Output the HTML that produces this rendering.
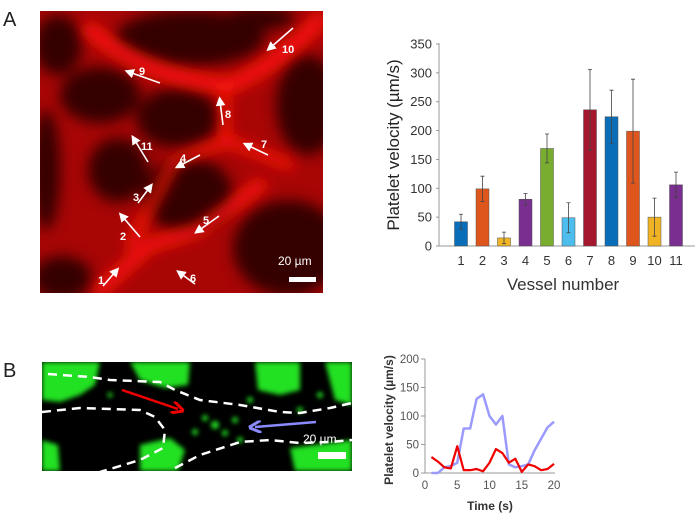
<!DOCTYPE html>
<html><head><meta charset="utf-8"><style>
body{margin:0;background:#fff;font-family:"Liberation Sans",Arial,sans-serif}
svg{display:block}
</style></head><body>
<svg width="700" height="526" viewBox="0 0 700 526" xmlns="http://www.w3.org/2000/svg">
<defs>
<filter id="blur8"><feGaussianBlur stdDeviation="7"/></filter>
<filter id="blur3"><feGaussianBlur stdDeviation="2.5"/></filter>
<clipPath id="clipA"><rect x="40" y="11" width="283" height="282"/></clipPath>
<clipPath id="clipB"><rect x="42" y="362" width="310" height="109"/></clipPath>
<marker id="mw" markerWidth="6" markerHeight="6" refX="3" refY="3" orient="auto"><path d="M0,0 L6,3 L0,6 Z" fill="#fff"/></marker>
<marker id="mr" markerWidth="5" markerHeight="5" refX="2.5" refY="2.5" orient="auto"><path d="M0,0 L5,2.5 L0,5" fill="none" stroke="#f00000" stroke-width="1.2"/></marker>
<marker id="mb" markerWidth="5" markerHeight="5" refX="2.5" refY="2.5" orient="auto"><path d="M0,0 L5,2.5 L0,5" fill="none" stroke="#8a8aff" stroke-width="1.2"/></marker>
</defs>

<text x="3" y="26" font-size="20" fill="#222">A</text>
<text x="3" y="377" font-size="20" fill="#222">B</text>

<g clip-path="url(#clipA)">
<rect x="40" y="11" width="283" height="282" fill="#a80505"/>
<g filter="url(#blur8)" fill="#360303">
<ellipse cx="58" cy="45" rx="24" ry="30"/>
<ellipse cx="190" cy="38" rx="75" ry="28"/>
<ellipse cx="100" cy="95" rx="40" ry="28"/>
<ellipse cx="178" cy="118" rx="42" ry="30"/>
<ellipse cx="118" cy="170" rx="30" ry="32"/>
<ellipse cx="188" cy="195" rx="45" ry="38"/>
<ellipse cx="308" cy="105" rx="32" ry="50"/>
<ellipse cx="288" cy="248" rx="55" ry="48"/>
<ellipse cx="62" cy="278" rx="30" ry="22"/>
<ellipse cx="46" cy="170" rx="14" ry="60"/>
<ellipse cx="260" cy="18" rx="35" ry="12"/>
</g>
<g filter="url(#blur8)" stroke="#ff1208" fill="none" stroke-linecap="round">
<path d="M90 30 Q150 80 230 85 Q270 70 320 20" stroke-width="14"/>
<path d="M225 85 L225 140 L290 165" stroke-width="9"/>
<path d="M130 245 L175 160 L230 140" stroke-width="9"/>
<path d="M100 290 L150 245 L200 230 L260 185" stroke-width="12"/>
</g>
</g>
<g stroke="#fff" stroke-width="1.6" marker-end="url(#mw)">
<line x1="293" y1="28" x2="270" y2="48"/><line x1="160" y1="83" x2="129" y2="72"/>
<line x1="223" y1="125" x2="220" y2="101"/><line x1="268" y1="155" x2="247" y2="145"/>
<line x1="148" y1="162" x2="134" y2="139"/><line x1="200" y1="155" x2="179" y2="166"/>
<line x1="138" y1="203" x2="150" y2="187"/><line x1="140" y1="237" x2="122" y2="216"/>
<line x1="219" y1="216" x2="198" y2="231"/><line x1="195" y1="284" x2="180" y2="273"/>
<line x1="103" y1="286" x2="116" y2="271"/>
</g>
<g fill="#fff" font-size="11" font-weight="bold">
<text x="282" y="53">10</text><text x="139" y="75">9</text><text x="225" y="118">8</text>
<text x="261" y="148">7</text><text x="141" y="150">11</text><text x="180" y="162">4</text>
<text x="133" y="201">3</text><text x="120" y="240">2</text><text x="203" y="224">5</text>
<text x="190" y="282">6</text><text x="98" y="284">1</text>
</g>
<text x="278" y="265" fill="#fff" font-size="12">20 µm</text>
<rect x="289" y="277" width="27" height="5" fill="#fff"/>

<g clip-path="url(#clipB)">
<rect x="42" y="362" width="310" height="109" fill="#000"/>
<g fill="#22e022" filter="url(#blur3)">
<path d="M42 362 L100 362 L95 385 L80 395 L60 402 L42 400 Z"/>
<path d="M130 362 L190 362 L188 385 L165 388 L140 380 Z"/>
<path d="M255 362 L300 362 L300 390 L280 395 L258 390 Z"/>
<path d="M325 362 L352 362 L352 405 L335 400 Z"/>
<path d="M42 440 L58 445 L60 471 L42 471 Z"/>
<path d="M140 445 L170 438 L185 450 L178 471 L140 471 Z"/>
<path d="M290 448 L352 440 L352 471 L295 471 Z"/>
<circle cx="215" cy="425" r="4"/><circle cx="225" cy="433" r="3"/><circle cx="205" cy="418" r="3"/>
<circle cx="235" cy="420" r="3"/><circle cx="195" cy="432" r="3"/><circle cx="250" cy="400" r="3"/>
<circle cx="240" cy="440" r="3"/><circle cx="110" cy="395" r="2.5"/><circle cx="300" cy="410" r="3"/>
<circle cx="320" cy="395" r="3"/>
</g>
</g>
<g fill="none" stroke="#fff" stroke-width="2.5" stroke-dasharray="9,6">
<path d="M48 374 L90 377 L110 380 L160 382 L175 390 L200 400 L240 405 L280 412 L300 413 L330 408 L352 403"/>
<path d="M42 412 L80 408 L140 410 L155 417 L165 430 L163 448 L140 460 L100 472"/>
<path d="M175 468 L200 455 L240 442 L270 440 L300 443 L330 442 L352 440"/>
</g>
<line x1="122" y1="390" x2="178" y2="409" stroke="#f00000" stroke-width="2.5" marker-end="url(#mr)"/>
<line x1="316" y1="422" x2="255" y2="427" stroke="#8a8aff" stroke-width="2.5" marker-end="url(#mb)"/>
<text x="303" y="443" fill="#fff" font-size="12">20 µm</text>
<rect x="318" y="452" width="28" height="7" fill="#fff"/>

<g id="barChart"></g>
<g id="lineChart"></g>
</svg>
<script>
const NS="http://www.w3.org/2000/svg";
const vessels=["1","2","3","4","5","6","7","8","9","10","11"];
const velocities=[42,99,14,81,169,49,236,224,199,50,106];
const errors=[13,22,10,10,25,26,70,46,90,33,22];
const barColors=["#0a6db7","#de561c","#f0b323","#7a2e8f","#78ad2f","#4dbdee","#a5162f","#0a6db7","#de561c","#f0b323","#7a2e8f"];
const yTicks=[0,50,100,150,200,250,300,350];
const times=[1,2,3,4,5,6,7,8,9,10,11,12,13,14,15,16,17,18,19,20];
const redSeries=[28,20,10,8,47,5,5,7,3,18,42,35,18,25,2,15,12,5,7,16];
const blueSeries=[0,0,10,12,18,78,78,130,138,100,85,100,15,10,12,15,40,60,80,90];
const lyTicks=[0,50,100,150,200];
const lxTicks=[0,5,10,15,20];

function mk(parent,tag,attrs,text){const e=document.createElementNS(NS,tag);for(const k in attrs)e.setAttribute(k,attrs[k]);if(text!==undefined)e.textContent=text;parent.appendChild(e);return e;}

const bc=document.getElementById('barChart');
const by=v=>246-v*(202/350);
const bx=i=>461+i*21.5;
mk(bc,'line',{x1:439,y1:43,x2:439,y2:246,stroke:'#999','stroke-width':1});
mk(bc,'line',{x1:439,y1:246,x2:695,y2:246,stroke:'#999','stroke-width':1});
yTicks.forEach(t=>{
  const tk=mk(bc,'line',{x1:436,y1:by(t),x2:439,y2:by(t),stroke:'#999'});
  
  
  const lb=mk(bc,'text',{x:432,y:by(t)+4.5,'text-anchor':'end','font-size':13,fill:'#333'},t);
  
  
});
velocities.forEach((v,i)=>{
  const r=mk(bc,'rect',{x:bx(i)-6.5,y:by(v),width:13,height:by(0)-by(v),fill:barColors[i],stroke:'#555','stroke-width':0.5});
  
  
  const e=errors[i],x=bx(i);
  const eb=mk(bc,'path',{d:`M${x} ${by(v+e)}V${by(Math.max(0,v-e))}M${x-2} ${by(v+e)}h4M${x-2} ${by(Math.max(0,v-e))}h4`,stroke:'#444','stroke-width':0.8,fill:'none'});
  
  
  const xl=mk(bc,'text',{x:x,y:265,'text-anchor':'middle','font-size':13,fill:'#333'},vessels[i]);
  
  
});
const xt=mk(bc,'text',{x:563,y:290,'text-anchor':'middle','font-size':17,fill:'#333'},'Vessel number');


const yt=mk(bc,'text',{x:0,y:0,transform:'translate(399,145) rotate(-90)','text-anchor':'middle','font-size':17,fill:'#222'},'Platelet velocity (µm/s)');



const lc=document.getElementById('lineChart');
const ly=v=>473-v*(114/200);
const lx=t=>425+t*(129/20);
mk(lc,'line',{x1:425,y1:359,x2:425,y2:473,stroke:'#999'});
mk(lc,'line',{x1:425,y1:473,x2:555,y2:473,stroke:'#999'});
lyTicks.forEach(t=>{
  mk(lc,'line',{x1:421,y1:ly(t),x2:425,y2:ly(t),stroke:'#999'});
  const lb=mk(lc,'text',{x:419,y:ly(t)+4,'text-anchor':'end','font-size':11.5,fill:'#555'},t);
  
  
});
lxTicks.forEach(t=>{
  const lb=mk(lc,'text',{x:lx(t),y:489,'text-anchor':'middle','font-size':11.5,fill:'#555'},t);
  
  
});
const bl=mk(lc,'polyline',{points:times.map((t,i)=>lx(t)+','+ly(blueSeries[i])).join(' '),fill:'none',stroke:'#9a9aff','stroke-width':2.5,'stroke-linejoin':'round'});


const rl=mk(lc,'polyline',{points:times.map((t,i)=>lx(t)+','+ly(redSeries[i])).join(' '),fill:'none',stroke:'#f00000','stroke-width':2.2,'stroke-linejoin':'round'});


const lxt=mk(lc,'text',{x:490,y:510,'text-anchor':'middle','font-size':12,'font-weight':'bold',fill:'#333'},'Time (s)');


const lyt=mk(lc,'text',{x:0,y:0,transform:'translate(393,420) rotate(-90)','text-anchor':'middle','font-size':12,'font-weight':'bold',fill:'#333'},'Platelet velocity (µm/s)');


</script>
</body></html>
